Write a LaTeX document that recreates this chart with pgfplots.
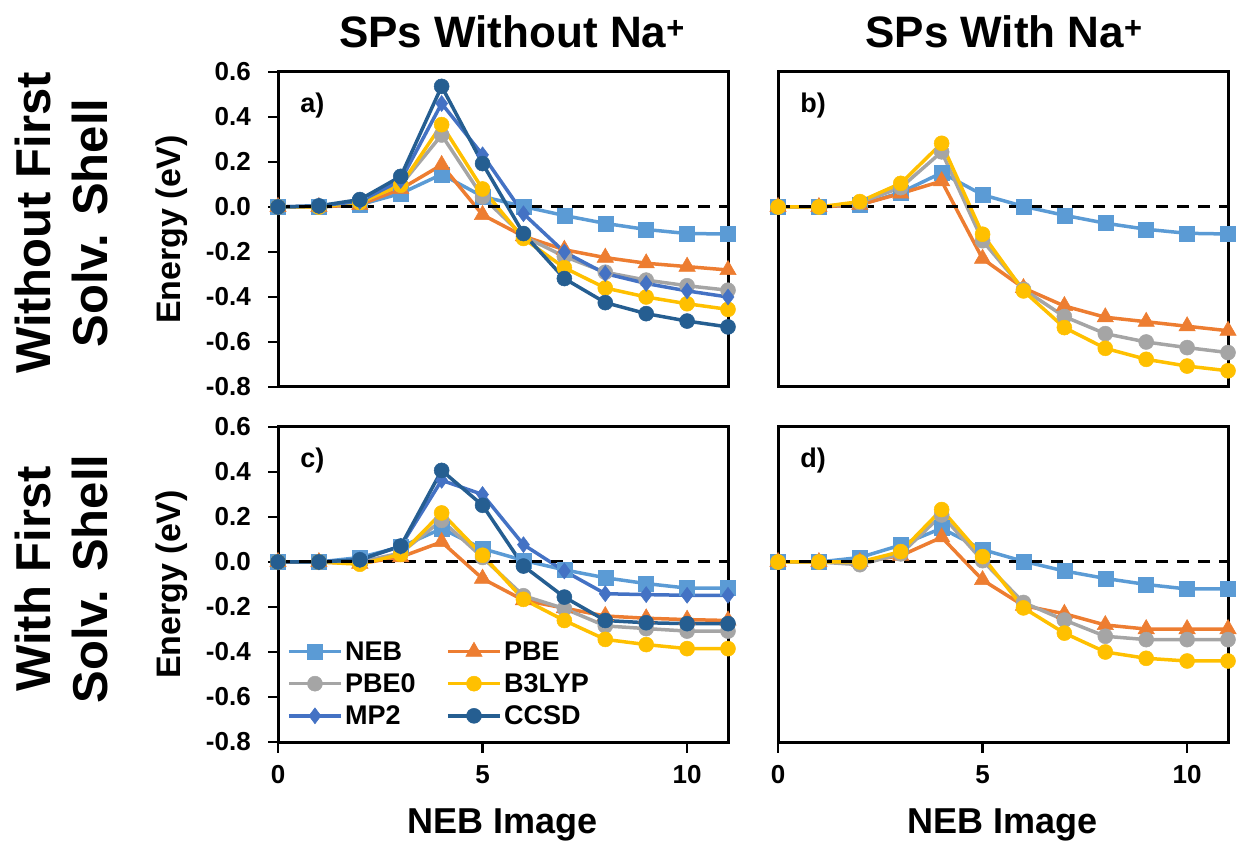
\documentclass[border=0pt]{standalone}
\usepackage{fontspec}
\setmainfont{Liberation Sans}
\usepackage{pgfplots}
\usepackage{pgfplotstable}
\pgfplotsset{compat=1.18}

\definecolor{cNEB}{HTML}{5B9BD5}
\definecolor{cPBE}{HTML}{ED7D31}
\definecolor{cPBEz}{HTML}{A5A5A5}
\definecolor{cB3}{HTML}{FFC000}
\definecolor{cMP}{HTML}{4472C4}
\definecolor{cCC}{HTML}{255E91}

\pgfplotstableread{
x NEB PBE PBE0 B3LYP MP2 CCSD
0 0 0 0 0 0 0
1 0 0 0 0 0.005 0.005
2 0.01 0.01 0.02 0.02 0.025 0.033
3 0.06 0.08 0.097 0.097 0.118 0.136
4 0.145 0.187 0.32 0.366 0.46 0.536
5 0.047 -0.035 0.045 0.08 0.232 0.193
6 0.002 -0.13 -0.13 -0.14 -0.03 -0.118
7 -0.038 -0.19 -0.22 -0.27 -0.2 -0.318
8 -0.073 -0.225 -0.29 -0.36 -0.296 -0.425
9 -0.1 -0.25 -0.325 -0.40 -0.34 -0.474
10 -0.118 -0.265 -0.35 -0.43 -0.373 -0.507
11 -0.12 -0.28 -0.37 -0.455 -0.40 -0.533
}\tabA

\pgfplotstableread{
x NEB PBE PBE0 B3LYP
0 0 0 0 0
1 0 0 0 0
2 0.01 0.01 0.02 0.024
3 0.064 0.06 0.086 0.105
4 0.152 0.115 0.245 0.283
5 0.054 -0.23 -0.15 -0.121
6 0.003 -0.36 -0.366 -0.373
7 -0.037 -0.44 -0.487 -0.536
8 -0.072 -0.49 -0.563 -0.628
9 -0.099 -0.51 -0.6 -0.677
10 -0.117 -0.53 -0.625 -0.707
11 -0.12 -0.55 -0.647 -0.728
}\tabB

\pgfplotstableread{
x NEB PBE PBE0 B3LYP MP2 CCSD
0 0 0 0 0 0 0
1 0 0 0 0 0 0
2 0.02 -0.007 0.0 -0.01 0.01 0.01
3 0.067 0.022 0.04 0.034 0.07 0.071
4 0.148 0.089 0.185 0.218 0.363 0.407
5 0.059 -0.074 0.02 0.03 0.3 0.252
6 0.007 -0.17 -0.15 -0.166 0.077 -0.018
7 -0.035 -0.205 -0.207 -0.26 -0.04 -0.156
8 -0.07 -0.24 -0.284 -0.344 -0.141 -0.26
9 -0.096 -0.25 -0.296 -0.367 -0.145 -0.27
10 -0.116 -0.256 -0.307 -0.385 -0.148 -0.274
11 -0.116 -0.26 -0.307 -0.385 -0.148 -0.274
}\tabC

\pgfplotstableread{
x NEB PBE PBE0 B3LYP
0 0 0 0 0
1 0 0 0 0
2 0.02 0 -0.012 0
3 0.075 0.028 0.036 0.046
4 0.15 0.11 0.209 0.233
5 0.055 -0.08 0.006 0.024
6 0.003 -0.194 -0.18 -0.204
7 -0.04 -0.23 -0.258 -0.316
8 -0.073 -0.28 -0.33 -0.4
9 -0.1 -0.298 -0.345 -0.428
10 -0.12 -0.298 -0.345 -0.44
11 -0.12 -0.298 -0.345 -0.44
}\tabD

\pgfplotsset{
  panel/.style={
    scale only axis, width=450pt, height=315pt,
    xmin=0, xmax=11, ymin=-0.8, ymax=0.6,
    clip=false,
    axis line style={line width=3pt, black},
    tick style={draw=black, line width=2.5pt},
    tick align=outside, major tick length=9pt,
    xtick pos=left, ytick pos=left,
    xtick={0,5,10},
    ytick={-0.8,-0.6,-0.4,-0.2,0,0.2,0.4,0.6},
    /pgf/number format/assume math mode=true,
    ticklabel style={font=\fontsize{26}{30}\selectfont\bfseries},
    yticklabel style={/pgf/number format/fixed, /pgf/number format/fixed zerofill, /pgf/number format/precision=1, inner sep=0pt, xshift=-18pt},
    xticklabel style={inner sep=0pt, yshift=-14pt},
    every axis plot/.append style={line width=3.5pt},
    ylabel style={at={(axis description cs:-0.2156,0.5)}, anchor=base, inner sep=0pt, font=\fontsize{34}{34}\selectfont\bfseries},
    xlabel style={at={(axis description cs:0.5,-0.292)}, anchor=base, inner sep=0pt, font=\fontsize{36}{36}\selectfont\bfseries},
  },
  sNEB/.style={color=cNEB, mark=square*, mark size=7.5pt, mark options={solid, line width=0.5pt}},
  sPBE/.style={color=cPBE, mark=triangle*, mark size=9.5pt, mark options={solid, line width=0.5pt}},
  sPBEz/.style={color=cPBEz, mark=*, mark size=7.5pt, mark options={solid, line width=0.5pt}},
  sB3/.style={color=cB3, mark=*, mark size=7.5pt, mark options={solid, line width=0.5pt}},
  sMP/.style={color=cMP, mark=diamond*, mark size=8pt, mark options={solid, line width=0.5pt}},
  sCC/.style={color=cCC, mark=*, mark size=7.5pt, mark options={solid, line width=0.5pt}},
  zline/.style={black, dashed, line width=3pt, dash pattern=on 12pt off 9pt, forget plot},
}

\begin{document}
\begin{tikzpicture}
\useasboundingbox (0pt,0pt) rectangle (1238pt,843pt);

% Titles
\node[anchor=base, font=\fontsize{44}{44}\selectfont\bfseries] at (512pt,795pt) {SPs Without Na\textsuperscript{+}};
\node[anchor=base, font=\fontsize{44}{44}\selectfont\bfseries] at (1004pt,795pt) {SPs With Na\textsuperscript{+}};

% Row labels
\node[rotate=90, anchor=base, font=\fontsize{49}{49}\selectfont\bfseries] at (50pt,620pt) {Without First};
\node[rotate=90, anchor=base, font=\fontsize{49}{49}\selectfont\bfseries] at (107pt,620pt) {Solv. Shell};
\node[rotate=90, anchor=base, font=\fontsize{49}{49}\selectfont\bfseries] at (50pt,264pt) {With First};
\node[rotate=90, anchor=base, font=\fontsize{49}{49}\selectfont\bfseries] at (107pt,264pt) {Solv. Shell};

% a)
\begin{axis}[panel, at={(278pt,456pt)}, anchor=south west, xtick=\empty, ylabel={Energy (eV)}]
\addplot[sNEB] table[x=x,y=NEB]{\tabA};
\addplot[sPBE] table[x=x,y=PBE]{\tabA};
\addplot[sPBEz] table[x=x,y=PBE0]{\tabA};
\addplot[sB3] table[x=x,y=B3LYP]{\tabA};
\addplot[sMP] table[x=x,y=MP2]{\tabA};
\addplot[sCC] table[x=x,y=CCSD]{\tabA};
\addplot[zline] coordinates {(0,0) (11,0)};
\pgfplotsinvokeforeach{-0.8,-0.6,-0.4,-0.2,0,0.2,0.4,0.6}{\draw[black, line width=2.5pt] (axis cs:0,#1) -- ++(-10.5pt,0pt);}
\node[anchor=base west, inner sep=0pt, font=\fontsize{27}{27}\selectfont\bfseries] at (rel axis cs:0.049,0.87) {a)};
\end{axis}

% b)
\begin{axis}[panel, at={(778pt,456pt)}, anchor=south west, xtick=\empty, ytick=\empty]
\addplot[sNEB] table[x=x,y=NEB]{\tabB};
\addplot[sPBE] table[x=x,y=PBE]{\tabB};
\addplot[sPBEz] table[x=x,y=PBE0]{\tabB};
\addplot[sB3] table[x=x,y=B3LYP]{\tabB};
\addplot[zline] coordinates {(0,0) (11,0)};
\node[anchor=base west, inner sep=0pt, font=\fontsize{27}{27}\selectfont\bfseries] at (rel axis cs:0.049,0.87) {b)};
\end{axis}

% c)
\begin{axis}[panel, at={(278pt,101pt)}, anchor=south west, ylabel={Energy (eV)}, xlabel={NEB Image},
  legend columns=2,
  legend style={draw=none, fill=none, inner sep=0pt, at={(rel axis cs:0.02,0.338)}, anchor=north west,
    font=\fontsize{27}{30}\selectfont\bfseries, nodes={inner xsep=2.5pt, inner ysep=5.9pt},
    /tikz/every even column/.append style={column sep=28pt}},
  legend cell align=left,
  legend image code/.code={\draw[mark repeat=2, mark phase=2] plot coordinates {(0pt,0pt) (26pt,0pt) (52pt,0pt)};}]
\addplot[sNEB] table[x=x,y=NEB]{\tabC};
\addplot[sPBE] table[x=x,y=PBE]{\tabC};
\addplot[sPBEz] table[x=x,y=PBE0]{\tabC};
\addplot[sB3] table[x=x,y=B3LYP]{\tabC};
\addplot[sMP] table[x=x,y=MP2]{\tabC};
\addplot[sCC] table[x=x,y=CCSD]{\tabC};
\addplot[zline] coordinates {(0,0) (11,0)};
\legend{NEB, PBE, PBE0, B3LYP, MP2, CCSD}
\pgfplotsinvokeforeach{-0.8,-0.6,-0.4,-0.2,0,0.2,0.4,0.6}{\draw[black, line width=2.5pt] (axis cs:0,#1) -- ++(-10.5pt,0pt);}
\pgfplotsinvokeforeach{0,5,10}{\draw[black, line width=2.5pt] (axis cs:#1,-0.8) -- ++(0pt,-10.5pt);}
\node[anchor=base west, inner sep=0pt, font=\fontsize{27}{27}\selectfont\bfseries] at (rel axis cs:0.049,0.87) {c)};
\end{axis}

% d)
\begin{axis}[panel, at={(778pt,101pt)}, anchor=south west, ytick=\empty, xlabel={NEB Image}]
\addplot[sNEB] table[x=x,y=NEB]{\tabD};
\addplot[sPBE] table[x=x,y=PBE]{\tabD};
\addplot[sPBEz] table[x=x,y=PBE0]{\tabD};
\addplot[sB3] table[x=x,y=B3LYP]{\tabD};
\addplot[zline] coordinates {(0,0) (11,0)};
\pgfplotsinvokeforeach{0,5,10}{\draw[black, line width=2.5pt] (axis cs:#1,-0.8) -- ++(0pt,-10.5pt);}
\node[anchor=base west, inner sep=0pt, font=\fontsize{27}{27}\selectfont\bfseries] at (rel axis cs:0.049,0.87) {d)};
\end{axis}
\end{tikzpicture}
\end{document}
